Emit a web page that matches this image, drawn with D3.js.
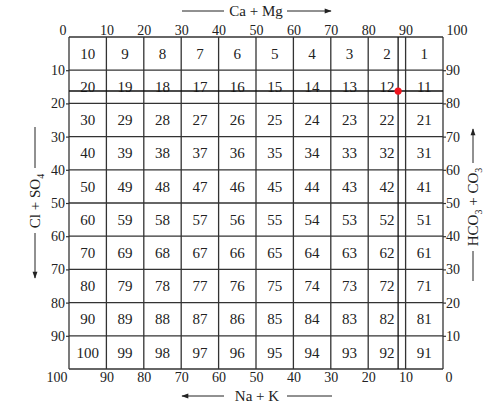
<!DOCTYPE html>
<html>
<head>
<meta charset="utf-8">
<script src="https://cdn.jsdelivr.net/npm/d3@7"></script>
<style>
  html, body { margin: 0; padding: 0; background: #fff; }
  svg { display: block; }
  text { font-family: "Liberation Serif", "Times New Roman", serif; fill: #222; }
</style>
</head>
<body>
<svg id="chart" width="498" height="418"></svg>
<script>
// ---- data ----
const topTicks = [0, 10, 20, 30, 40, 50, 60, 70, 80, 90, 100];      // Ca + Mg
const bottomTicks = [100, 90, 80, 70, 60, 50, 40, 30, 20, 10, 0];   // Na + K
const leftTicks = [10, 20, 30, 40, 50, 60, 70, 80, 90];             // Cl + SO4
const rightTicks = [90, 80, 70, 60, 50, 40, 30, 20, 10];            // HCO3 + CO3
const cellRows = [
  [10, 9, 8, 7, 6, 5, 4, 3, 2, 1],
  [20, 19, 18, 17, 16, 15, 14, 13, 12, 11],
  [30, 29, 28, 27, 26, 25, 24, 23, 22, 21],
  [40, 39, 38, 37, 36, 35, 34, 33, 32, 31],
  [50, 49, 48, 47, 46, 45, 44, 43, 42, 41],
  [60, 59, 58, 57, 56, 55, 54, 53, 52, 51],
  [70, 69, 68, 67, 66, 65, 64, 63, 62, 61],
  [80, 79, 78, 77, 76, 75, 74, 73, 72, 71],
  [90, 89, 88, 87, 86, 85, 84, 83, 82, 81],
  [100, 99, 98, 97, 96, 95, 94, 93, 92, 91]
];
const samplePoint = { caMg: 88, clSO4: 16.3 };

// ---- layout ----
const svg = d3.select("#chart");
const x = d3.scaleLinear().domain([0, 100]).range([69, 443]);
const y = d3.scaleLinear().domain([0, 100]).range([37, 369]);
const xb = d3.scaleLinear().domain([100, 0]).range([69, 443]);
const yr = d3.scaleLinear().domain([100, 0]).range([37, 369]);
const lineColor = "#333";

// grid
const g = svg.append("g");
const gridVals = d3.range(0, 101, 10);
g.selectAll("line.v").data(gridVals).join("line")
  .attr("x1", d => x(d)).attr("x2", d => x(d))
  .attr("y1", y(0)).attr("y2", y(100))
  .attr("stroke", lineColor).attr("stroke-width", 1.3);
g.selectAll("line.h").data(gridVals).join("line")
  .attr("class", "h")
  .attr("y1", d => y(d)).attr("y2", d => y(d))
  .attr("x1", x(0)).attr("x2", x(100))
  .attr("stroke", lineColor).attr("stroke-width", 1.3);

// cell numbers
const cells = [];
cellRows.forEach((row, r) => row.forEach((v, c) => cells.push({ r, c, v })));
svg.append("g").selectAll("text").data(cells).join("text")
  .attr("x", d => x(d.c * 10 + 5))
  .attr("y", d => y(d.r * 10 + 5))
  .attr("dy", "0.35em")
  .attr("text-anchor", "middle")
  .attr("font-size", 15)
  .text(d => d.v);

// guide lines through sample point
svg.append("line")
  .attr("x1", x(samplePoint.caMg)).attr("x2", x(samplePoint.caMg))
  .attr("y1", y(0)).attr("y2", y(100))
  .attr("stroke", "#111").attr("stroke-width", 1.3);
svg.append("line")
  .attr("y1", y(samplePoint.clSO4)).attr("y2", y(samplePoint.clSO4))
  .attr("x1", x(0)).attr("x2", x(100))
  .attr("stroke", "#111").attr("stroke-width", 1.5);
svg.append("circle")
  .attr("cx", x(samplePoint.caMg)).attr("cy", y(samplePoint.clSO4))
  .attr("r", 3.6).attr("fill", "#f0141e");

// axes
function styleAxis(sel) {
  sel.select(".domain").remove();
  sel.selectAll("text").attr("font-size", 14).attr("font-family", "Liberation Serif, Times New Roman, serif").attr("fill", "#222");
  sel.selectAll("line").attr("stroke", lineColor).attr("stroke-width", 1.2);
}
const topAx = svg.append("g").attr("transform", `translate(0,${y(0)})`)
  .call(d3.axisTop(x).tickValues(topTicks).tickSize(0).tickPadding(2).tickFormat(d3.format("d")))
  .call(styleAxis);
topAx.selectAll(".tick text").filter(d => d === 0).attr("text-anchor", "end").attr("x", -3);
topAx.selectAll(".tick text").filter(d => d === 100).attr("text-anchor", "start").attr("x", 3);

const botAx = svg.append("g").attr("transform", `translate(0,${y(100)})`)
  .call(d3.axisBottom(xb).tickValues(bottomTicks).tickSize(0).tickPadding(3).tickFormat(d3.format("d")))
  .call(styleAxis);
botAx.selectAll(".tick text").filter(d => d === 100).attr("text-anchor", "end").attr("x", -2);
botAx.selectAll(".tick text").filter(d => d === 0).attr("text-anchor", "start").attr("x", 2);

svg.append("g").attr("transform", `translate(${x(0)},0)`)
  .call(d3.axisLeft(y).tickValues(leftTicks).tickSize(3).tickPadding(1).tickFormat(d3.format("d")))
  .call(styleAxis);
svg.append("g").attr("transform", `translate(${x(100)},0)`)
  .call(d3.axisRight(yr).tickValues(rightTicks).tickSize(3).tickPadding(0).tickFormat(d3.format("d")))
  .call(styleAxis);

// arrow marker
const defs = svg.append("defs");
defs.append("marker").attr("id", "arr")
  .attr("viewBox", "0 0 10 10").attr("refX", 9).attr("refY", 5)
  .attr("markerWidth", 9).attr("markerHeight", 7).attr("markerUnits", "userSpaceOnUse")
  .attr("orient", "auto")
  .append("path").attr("d", "M0,1.5 L10,5 L0,8.5 Z").attr("fill", "#222");

function arrowLine(x1, y1, x2, y2, arrow) {
  const l = svg.append("line").attr("x1", x1).attr("y1", y1).attr("x2", x2).attr("y2", y2)
    .attr("stroke", "#222").attr("stroke-width", 1);
  if (arrow) l.attr("marker-end", "url(#arr)");
}

// top title: Ca + Mg
svg.append("text").attr("x", 256).attr("y", 16).attr("text-anchor", "middle")
  .attr("font-size", 15).text("Ca + Mg");
arrowLine(182, 11, 224, 11, false);
arrowLine(287, 11, 331, 11, true);

// bottom title: Na + K
svg.append("text").attr("x", 257).attr("y", 401).attr("text-anchor", "middle")
  .attr("font-size", 15).text("Na + K");
arrowLine(224, 396, 182, 396, true);
arrowLine(287, 396, 332, 396, false);

// left title: Cl + SO4
const lt = svg.append("text").attr("transform", "translate(40,201) rotate(-90)")
  .attr("text-anchor", "middle").attr("font-size", 15);
lt.append("tspan").text("Cl + SO");
lt.append("tspan").attr("font-size", 10).attr("dy", 4).text("4");
arrowLine(35, 127, 35, 168, false);
arrowLine(35, 233, 35, 278, true);

// right title: HCO3 + CO3
const rt = svg.append("text").attr("transform", "translate(478,207) rotate(-90)")
  .attr("text-anchor", "middle").attr("font-size", 15);
rt.append("tspan").text("HCO");
rt.append("tspan").attr("font-size", 10).attr("dy", 4).text("3");
rt.append("tspan").attr("dy", -4).text(" + CO");
rt.append("tspan").attr("font-size", 10).attr("dy", 4).text("3");
arrowLine(473, 163, 473, 129, true);
arrowLine(473, 251, 473, 281, false);
</script>
</body>
</html>
